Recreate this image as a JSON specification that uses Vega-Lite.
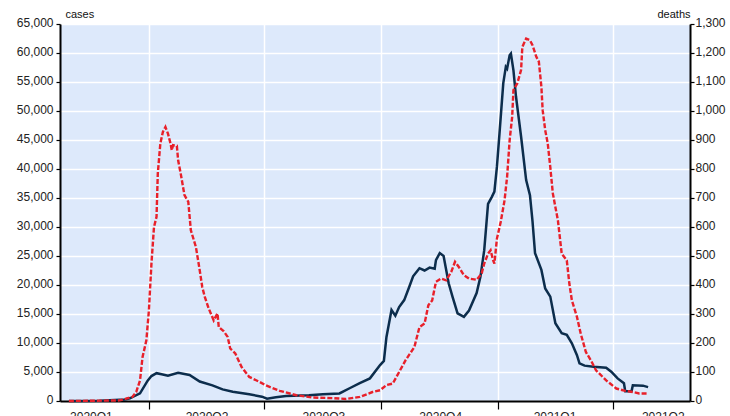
{
  "$schema": "https://vega.github.io/schema/vega-lite/v6.json",
  "width": 630,
  "height": 377,
  "autosize": {"type": "none"},
  "padding": {"left": 60, "top": 24, "right": 40, "bottom": 15},
  "background": "white",
  "config": {
    "view": {"fill": "#dde9fb", "stroke": null},
    "font": "Liberation Sans",
    "axis": {"labelColor": "#222", "titleColor": "#111", "labelFontSize": 12, "domainColor": "black", "domainWidth": 2, "tickColor": "black", "tickWidth": 1.2}
  },
  "datasets": {
    "cases": [
      {"date": "2020-01-29", "cases": 0}, {"date": "2020-02-22", "cases": 50}, {"date": "2020-03-13", "cases": 250}, {"date": "2020-03-17", "cases": 460}, {"date": "2020-03-25", "cases": 1330}, {"date": "2020-03-31", "cases": 3500}, {"date": "2020-04-03", "cases": 4300}, {"date": "2020-04-07", "cases": 4800}, {"date": "2020-04-11", "cases": 4600}, {"date": "2020-04-16", "cases": 4350}, {"date": "2020-04-24", "cases": 4850}, {"date": "2020-05-03", "cases": 4500}, {"date": "2020-05-11", "cases": 3350}, {"date": "2020-05-21", "cases": 2700}, {"date": "2020-05-29", "cases": 2000}, {"date": "2020-06-06", "cases": 1600}, {"date": "2020-06-19", "cases": 1150}, {"date": "2020-06-29", "cases": 740}, {"date": "2020-07-03", "cases": 400}, {"date": "2020-07-10", "cases": 650}, {"date": "2020-07-18", "cases": 860}, {"date": "2020-08-05", "cases": 1000}, {"date": "2020-08-16", "cases": 1150}, {"date": "2020-08-29", "cases": 1300}, {"date": "2020-09-06", "cases": 2200}, {"date": "2020-09-14", "cases": 3100}, {"date": "2020-09-22", "cases": 3900}, {"date": "2020-09-30", "cases": 6200}, {"date": "2020-10-03", "cases": 6900}, {"date": "2020-10-05", "cases": 11000}, {"date": "2020-10-09", "cases": 15700}, {"date": "2020-10-12", "cases": 14700}, {"date": "2020-10-15", "cases": 16200}, {"date": "2020-10-19", "cases": 17400}, {"date": "2020-10-23", "cases": 19700}, {"date": "2020-10-26", "cases": 21500}, {"date": "2020-10-31", "cases": 22900}, {"date": "2020-11-04", "cases": 22500}, {"date": "2020-11-08", "cases": 23000}, {"date": "2020-11-12", "cases": 22800}, {"date": "2020-11-13", "cases": 24300}, {"date": "2020-11-16", "cases": 25500}, {"date": "2020-11-19", "cases": 25000}, {"date": "2020-11-23", "cases": 20300}, {"date": "2020-11-26", "cases": 18000}, {"date": "2020-11-30", "cases": 15100}, {"date": "2020-12-05", "cases": 14500}, {"date": "2020-12-09", "cases": 15600}, {"date": "2020-12-15", "cases": 18600}, {"date": "2020-12-18", "cases": 21400}, {"date": "2020-12-21", "cases": 26000}, {"date": "2020-12-24", "cases": 34000}, {"date": "2020-12-27", "cases": 35200}, {"date": "2020-12-29", "cases": 36100}, {"date": "2020-12-31", "cases": 40400}, {"date": "2021-01-02", "cases": 46100}, {"date": "2021-01-05", "cases": 54800}, {"date": "2021-01-07", "cases": 57600}, {"date": "2021-01-08", "cases": 57300}, {"date": "2021-01-10", "cases": 59600}, {"date": "2021-01-11", "cases": 59900}, {"date": "2021-01-13", "cases": 57000}, {"date": "2021-01-15", "cases": 52500}, {"date": "2021-01-19", "cases": 45600}, {"date": "2021-01-23", "cases": 38100}, {"date": "2021-01-26", "cases": 35500}, {"date": "2021-01-28", "cases": 31000}, {"date": "2021-01-30", "cases": 25500}, {"date": "2021-02-04", "cases": 22600}, {"date": "2021-02-07", "cases": 19400}, {"date": "2021-02-11", "cases": 18000}, {"date": "2021-02-15", "cases": 13400}, {"date": "2021-02-20", "cases": 11700}, {"date": "2021-02-24", "cases": 11400}, {"date": "2021-02-28", "cases": 9950}, {"date": "2021-03-04", "cases": 7900}, {"date": "2021-03-06", "cases": 6500}, {"date": "2021-03-10", "cases": 6100}, {"date": "2021-03-17", "cases": 5900}, {"date": "2021-03-27", "cases": 5750}, {"date": "2021-03-31", "cases": 5050}, {"date": "2021-04-05", "cases": 3900}, {"date": "2021-04-10", "cases": 3050}, {"date": "2021-04-11", "cases": 1700}, {"date": "2021-04-16", "cases": 1700}, {"date": "2021-04-17", "cases": 2700}, {"date": "2021-04-25", "cases": 2650}, {"date": "2021-04-29", "cases": 2400}
    ],
    "deaths": [
      {"date": "2020-01-29", "deaths": 0}, {"date": "2020-03-09", "deaths": 2}, {"date": "2020-03-14", "deaths": 8}, {"date": "2020-03-19", "deaths": 14}, {"date": "2020-03-22", "deaths": 31}, {"date": "2020-03-25", "deaths": 71}, {"date": "2020-03-27", "deaths": 152}, {"date": "2020-03-30", "deaths": 209}, {"date": "2020-04-01", "deaths": 313}, {"date": "2020-04-03", "deaths": 474}, {"date": "2020-04-05", "deaths": 600}, {"date": "2020-04-07", "deaths": 635}, {"date": "2020-04-08", "deaths": 785}, {"date": "2020-04-10", "deaths": 888}, {"date": "2020-04-12", "deaths": 928}, {"date": "2020-04-14", "deaths": 945}, {"date": "2020-04-16", "deaths": 922}, {"date": "2020-04-18", "deaths": 888}, {"date": "2020-04-19", "deaths": 865}, {"date": "2020-04-20", "deaths": 882}, {"date": "2020-04-23", "deaths": 880}, {"date": "2020-04-24", "deaths": 830}, {"date": "2020-04-26", "deaths": 785}, {"date": "2020-04-29", "deaths": 710}, {"date": "2020-05-02", "deaths": 687}, {"date": "2020-05-04", "deaths": 589}, {"date": "2020-05-08", "deaths": 531}, {"date": "2020-05-11", "deaths": 451}, {"date": "2020-05-13", "deaths": 393}, {"date": "2020-05-15", "deaths": 359}, {"date": "2020-05-18", "deaths": 320}, {"date": "2020-05-22", "deaths": 278}, {"date": "2020-05-25", "deaths": 302}, {"date": "2020-05-26", "deaths": 255}, {"date": "2020-05-30", "deaths": 240}, {"date": "2020-06-02", "deaths": 221}, {"date": "2020-06-04", "deaths": 181}, {"date": "2020-06-08", "deaths": 164}, {"date": "2020-06-13", "deaths": 117}, {"date": "2020-06-19", "deaths": 83}, {"date": "2020-06-27", "deaths": 66}, {"date": "2020-07-02", "deaths": 54}, {"date": "2020-07-13", "deaths": 35}, {"date": "2020-07-26", "deaths": 20}, {"date": "2020-08-08", "deaths": 12}, {"date": "2020-08-24", "deaths": 10}, {"date": "2020-09-03", "deaths": 7}, {"date": "2020-09-14", "deaths": 14}, {"date": "2020-09-24", "deaths": 31}, {"date": "2020-09-30", "deaths": 37}, {"date": "2020-10-05", "deaths": 55}, {"date": "2020-10-10", "deaths": 60}, {"date": "2020-10-15", "deaths": 100}, {"date": "2020-10-20", "deaths": 140}, {"date": "2020-10-27", "deaths": 186}, {"date": "2020-10-31", "deaths": 255}, {"date": "2020-11-04", "deaths": 267}, {"date": "2020-11-07", "deaths": 330}, {"date": "2020-11-10", "deaths": 347}, {"date": "2020-11-13", "deaths": 411}, {"date": "2020-11-17", "deaths": 422}, {"date": "2020-11-21", "deaths": 416}, {"date": "2020-11-25", "deaths": 445}, {"date": "2020-11-28", "deaths": 480}, {"date": "2020-12-01", "deaths": 462}, {"date": "2020-12-05", "deaths": 434}, {"date": "2020-12-09", "deaths": 422}, {"date": "2020-12-15", "deaths": 418}, {"date": "2020-12-19", "deaths": 440}, {"date": "2020-12-21", "deaths": 474}, {"date": "2020-12-24", "deaths": 508}, {"date": "2020-12-26", "deaths": 520}, {"date": "2020-12-28", "deaths": 485}, {"date": "2020-12-29", "deaths": 474}, {"date": "2020-12-31", "deaths": 560}, {"date": "2021-01-03", "deaths": 618}, {"date": "2021-01-06", "deaths": 692}, {"date": "2021-01-08", "deaths": 773}, {"date": "2021-01-10", "deaths": 899}, {"date": "2021-01-12", "deaths": 980}, {"date": "2021-01-13", "deaths": 1072}, {"date": "2021-01-16", "deaths": 1095}, {"date": "2021-01-19", "deaths": 1141}, {"date": "2021-01-20", "deaths": 1221}, {"date": "2021-01-23", "deaths": 1250}, {"date": "2021-01-26", "deaths": 1244}, {"date": "2021-01-28", "deaths": 1227}, {"date": "2021-01-31", "deaths": 1187}, {"date": "2021-02-02", "deaths": 1170}, {"date": "2021-02-04", "deaths": 1083}, {"date": "2021-02-05", "deaths": 1003}, {"date": "2021-02-07", "deaths": 934}, {"date": "2021-02-09", "deaths": 888}, {"date": "2021-02-11", "deaths": 807}, {"date": "2021-02-13", "deaths": 716}, {"date": "2021-02-15", "deaths": 669}, {"date": "2021-02-17", "deaths": 623}, {"date": "2021-02-20", "deaths": 508}, {"date": "2021-02-24", "deaths": 485}, {"date": "2021-02-26", "deaths": 405}, {"date": "2021-02-28", "deaths": 347}, {"date": "2021-03-04", "deaths": 290}, {"date": "2021-03-07", "deaths": 232}, {"date": "2021-03-11", "deaths": 169}, {"date": "2021-03-15", "deaths": 140}, {"date": "2021-03-19", "deaths": 106}, {"date": "2021-03-27", "deaths": 71}, {"date": "2021-04-04", "deaths": 43}, {"date": "2021-04-11", "deaths": 35}, {"date": "2021-04-17", "deaths": 31}, {"date": "2021-04-22", "deaths": 26}, {"date": "2021-04-29", "deaths": 26}
    ]
  },
  "encoding": {
    "x": {
      "field": "date",
      "type": "temporal",
      "scale": {"domain": [{"year": 2020, "month": 1, "date": 22}, {"year": 2021, "month": 6, "date": 1}]},
      "axis": {
        "title": null,
        "values": [
          {"year": 2020, "month": 4, "date": 1},
          {"year": 2020, "month": 7, "date": 1},
          {"year": 2020, "month": 10, "date": 1},
          {"year": 2021, "month": 1, "date": 1},
          {"year": 2021, "month": 4, "date": 1},
          {"year": 2021, "month": 5, "date": 31}
        ],
        "labelExpr": "timeFormat(datum.value - 86400000, '%YQ%q')",
        "labelOffset": {"condition": {"test": "datum.value > datetime(2021, 4, 15)", "value": -26}, "value": -58},
        "tickOpacity": {"condition": {"test": "datum.value > datetime(2021, 4, 15)", "value": 0}, "value": 1},
        "gridOpacity": {"condition": {"test": "datum.value > datetime(2021, 4, 15)", "value": 0}, "value": 1},
        "grid": true,
        "gridColor": "white",
        "gridWidth": 1.5,
        "tickSize": 8,
        "labelPadding": 2,
        "labelFlush": false,
        "labelOverlap": false,
        "labelBound": false
      }
    }
  },
  "layer": [
    {
      "data": {"name": "cases"},
      "mark": {"type": "line", "color": "#0c2d4c", "strokeWidth": 2.5},
      "encoding": {
        "y": {
          "field": "cases",
          "type": "quantitative",
          "scale": {"domain": [0, 65000], "nice": false},
          "axis": {
            "orient": "left",
            "title": "cases",
            "titleAngle": 0,
            "titleAlign": "left",
            "titleBaseline": "alphabetic",
            "titleX": 5,
            "titleY": -6.5,
            "titleFontSize": 11,
            "titleFontWeight": "normal",
            "values": [0, 5000, 10000, 15000, 20000, 25000, 30000, 35000, 40000, 45000, 50000, 55000, 60000, 65000],
            "format": ",.0f",
            "tickSize": 4,
            "labelPadding": 3,
            "labelOffset": -2,
            "grid": true,
            "gridColor": "white",
            "gridWidth": 1.5
          }
        }
      }
    },
    {
      "data": {"name": "deaths"},
      "mark": {"type": "line", "color": "#e8202a", "strokeWidth": 2.4, "strokeDash": [5, 2]},
      "encoding": {
        "y": {
          "field": "deaths",
          "type": "quantitative",
          "scale": {"domain": [0, 1300], "nice": false},
          "axis": {
            "orient": "right",
            "title": "deaths",
            "titleAngle": 0,
            "titleAlign": "right",
            "titleBaseline": "alphabetic",
            "titleX": 0,
            "titleY": -6.5,
            "titleFontSize": 11,
            "titleFontWeight": "normal",
            "values": [0, 100, 200, 300, 400, 500, 600, 700, 800, 900, 1000, 1100, 1200, 1300],
            "format": ",.0f",
            "tickSize": 4,
            "labelPadding": 1,
            "labelOffset": -2,
            "grid": false
          }
        }
      }
    }
  ],
  "resolve": {"scale": {"y": "independent"}}
}
